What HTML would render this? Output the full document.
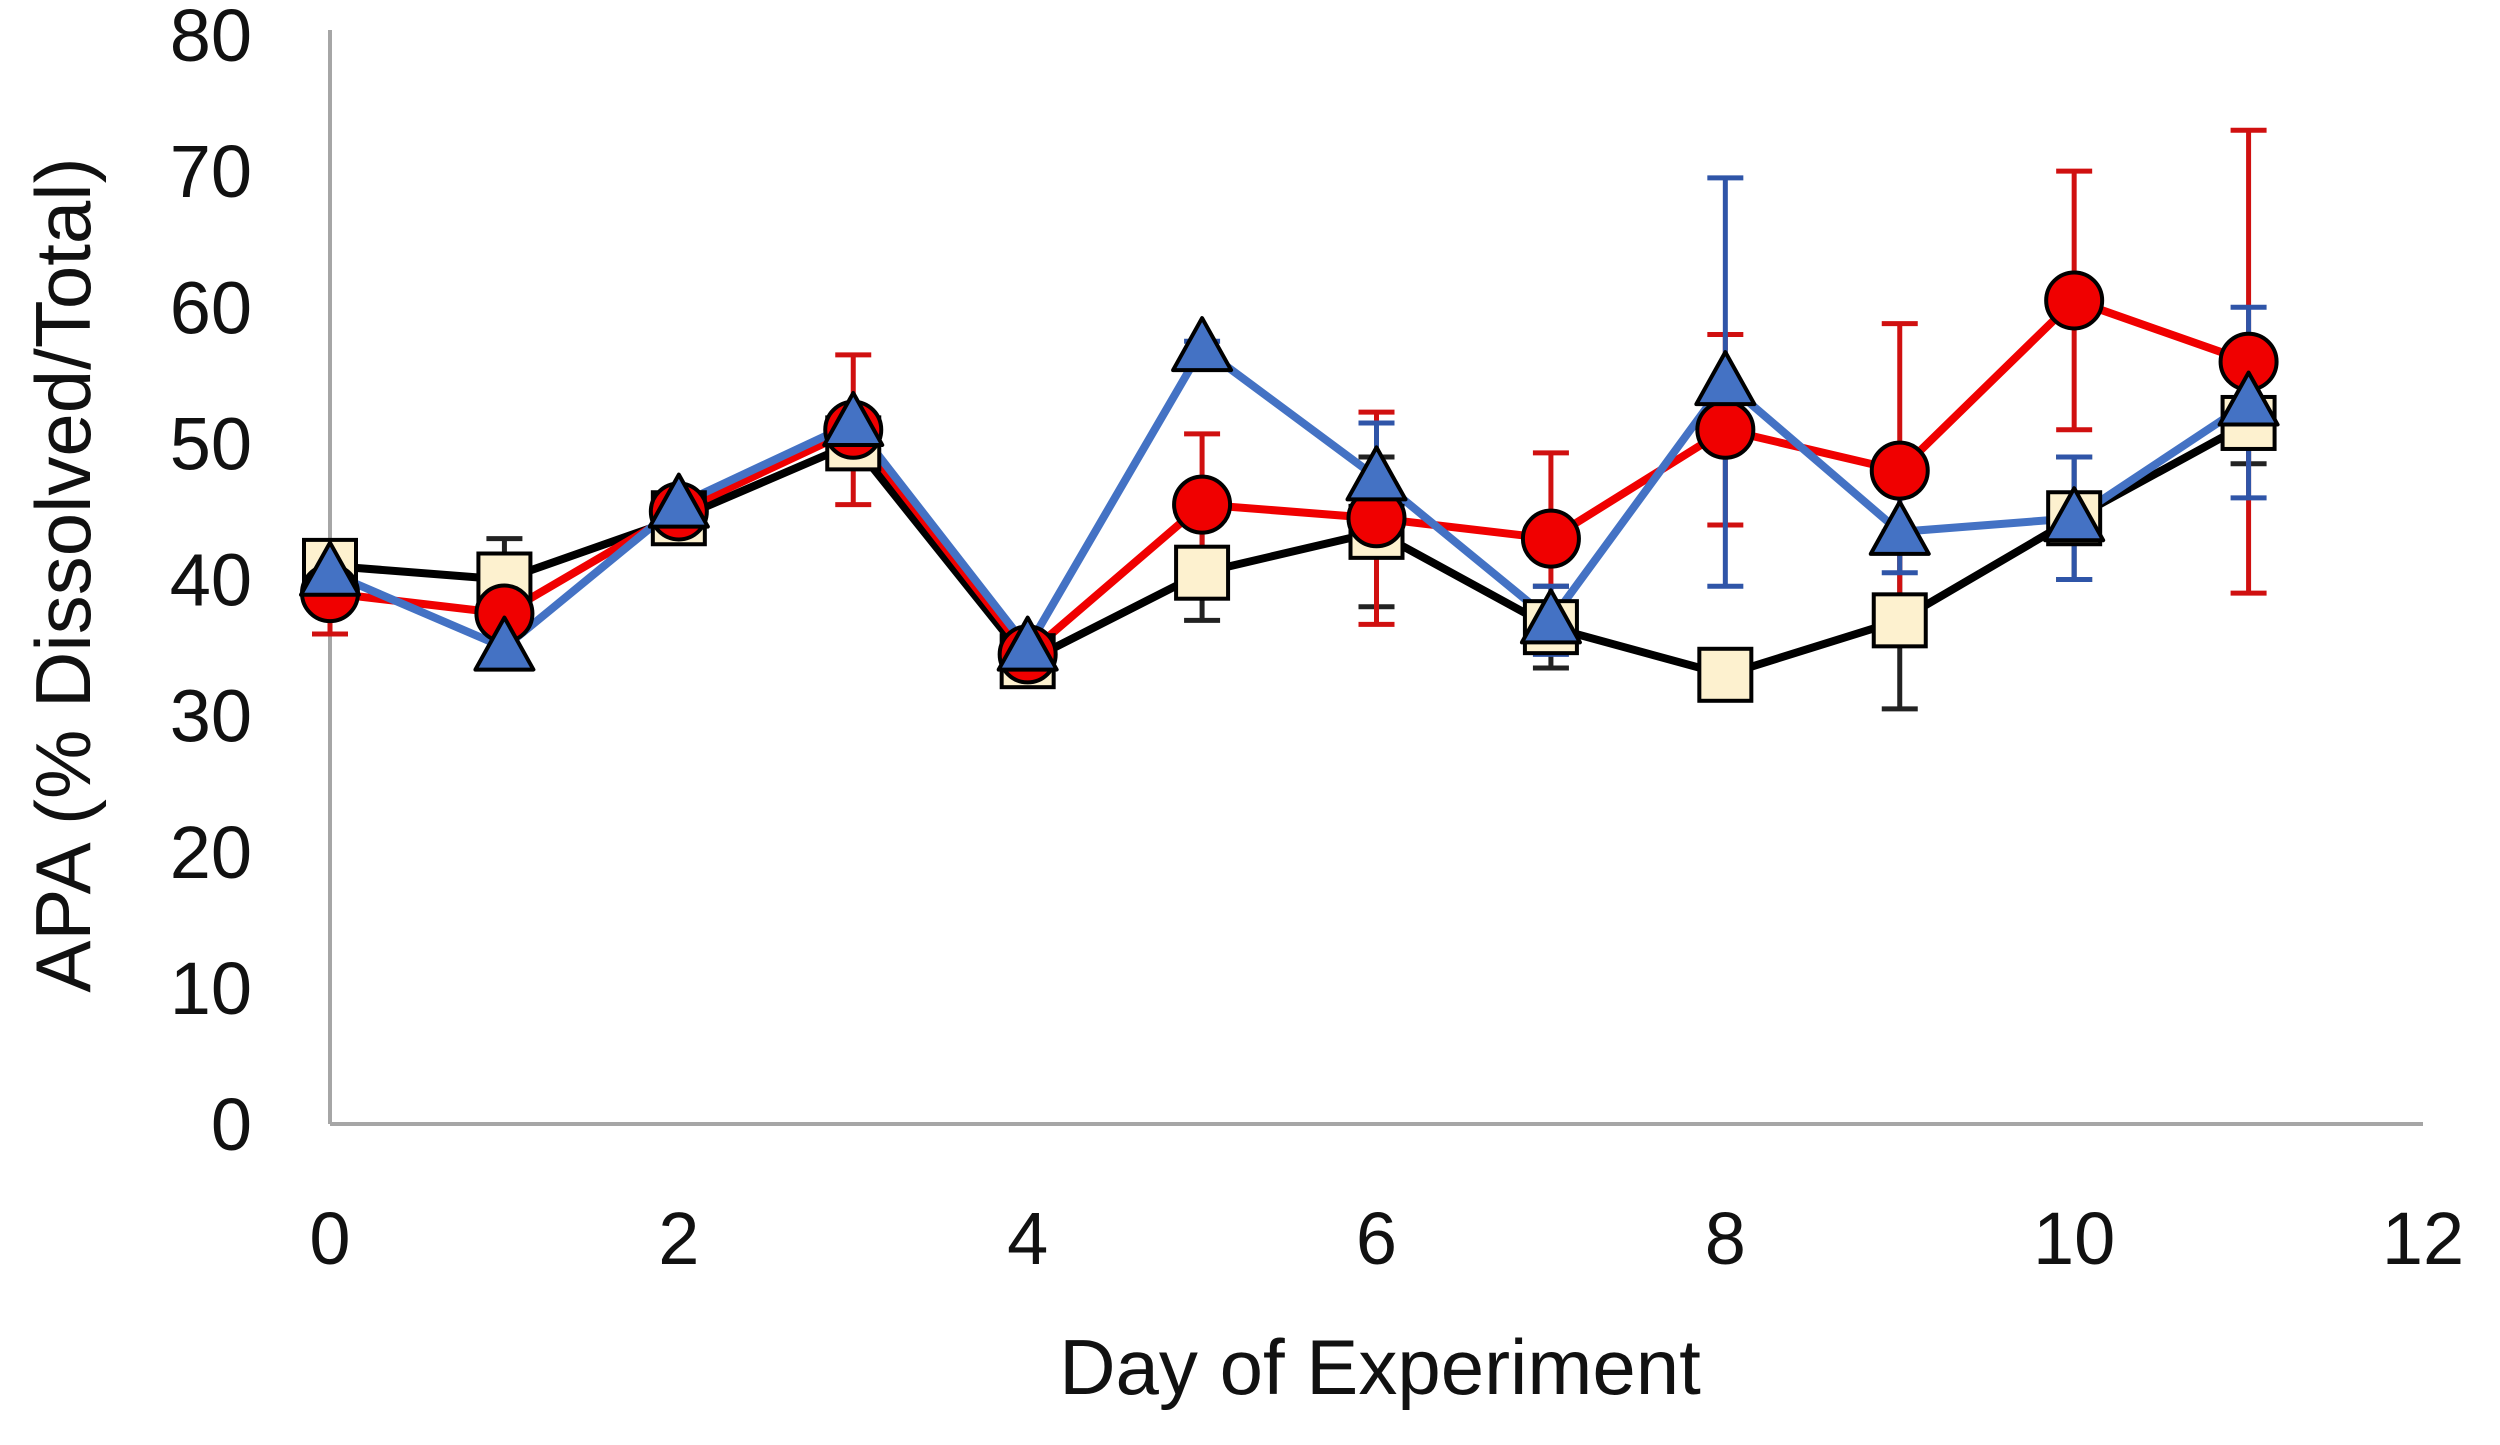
<!DOCTYPE html>
<html><head><meta charset="utf-8"><style>
body{margin:0;background:#fff;}
svg{display:block;font-family:"Liberation Sans",sans-serif;}
</style></head><body>
<svg id="chart" width="2500" height="1445" viewBox="0 0 2500 1445">
<g id="axes"></g>
<g id="series"></g>
<text x="1380" y="1394" font-size="78" text-anchor="middle" fill="#111">Day of Experiment</text>
<text transform="translate(90,575) rotate(-90)" font-size="78" text-anchor="middle" fill="#111">APA (% Dissolved/Total)</text>
</svg>
<script>
const days = [0,1,2,3,4,5,6,7,8,9,10,11];
const blackVals = [41,40,44.5,50,34,40.5,43.5,36.5,33,37,44.5,51.5];
const blackErr = [0,3,0,0,0,3.5,5.5,3,0,6.5,4.5,3];
const redVals = [39,37.5,45,51,34.5,45.5,44.5,43,51,48,60.5,56];
const redErr = [3,0,0,5.5,0,5.2,7.8,6.3,7,10.8,9.5,17];
const blueVals = [40.5,35,45.5,51.5,35,57,47.5,37,54.5,43.5,44.5,53];
const blueErr = [0,0,0,0,0,0.5,4,2.5,15,3,4.5,7];
const xTicks = [0,2,4,6,8,10,12];
const yTicks = [0,10,20,30,40,50,60,70,80];

const NS='http://www.w3.org/2000/svg';
const X0=330,X1=2423,Y0=1124,Y1=35;
function xs(v){return X0+(v/12)*(X1-X0);}
function ys(v){return Y0-(v/80)*(Y0-Y1);}
function mk(tag,attrs,parent){const e=document.createElementNS(NS,tag);for(const k in attrs)e.setAttribute(k,attrs[k]);parent.appendChild(e);return e;}
const axes=document.getElementById('axes'), ser=document.getElementById('series');

let l=mk('line',{x1:X0,y1:Y1-5,x2:X0,y2:Y0,stroke:'#a6a6a6','stroke-width':4},axes);


l=mk('line',{x1:X0,y1:Y0,x2:X1,y2:Y0,stroke:'#a6a6a6','stroke-width':4},axes);


yTicks.forEach(t=>{const e=mk('text',{x:252,y:ys(t)+26,'font-size':74,'text-anchor':'end',fill:'#111'},axes);e.textContent=t;

});
xTicks.forEach(t=>{const e=mk('text',{x:xs(t),y:1264,'font-size':74,'text-anchor':'middle',fill:'#111'},axes);e.textContent=t;

});

function errs(vals,err,col,name){
  const g=mk('g',{},ser);
  
  
  vals.forEach((v,i)=>{if(!err[i])return;const x=xs(days[i]);const a=ys(v+err[i]),b=ys(v-err[i]);
    mk('line',{x1:x,y1:a,x2:x,y2:b,stroke:col,'stroke-width':5},g);
    mk('line',{x1:x-18,y1:a,x2:x+18,y2:a,stroke:col,'stroke-width':5},g);
    mk('line',{x1:x-18,y1:b,x2:x+18,y2:b,stroke:col,'stroke-width':5},g);});
}
function line(vals,col,name){
  const p=mk('polyline',{points:vals.map((v,i)=>xs(days[i])+','+ys(v)).join(' '),fill:'none',stroke:col,'stroke-width':8,'stroke-linejoin':'round'},ser);
  
  
}
errs(blackVals,blackErr,'#222','control');
errs(redVals,redErr,'#d01010','red');
errs(blueVals,blueErr,'#2f55a8','blue');
line(blackVals,'#000','control');
line(redVals,'#f00000','red');
line(blueVals,'#4472c4','blue');
blackVals.forEach((v,i)=>{const x=xs(days[i]),y=ys(v);
  const r=mk('rect',{x:x-26,y:y-26,width:52,height:52,fill:'#fdf1cf',stroke:'#000','stroke-width':4},ser);
  
  });
redVals.forEach((v,i)=>{const c=mk('circle',{cx:xs(days[i]),cy:ys(v),r:28,fill:'#f00000',stroke:'#000','stroke-width':4},ser);
  
  });
blueVals.forEach((v,i)=>{const x=xs(days[i]),y=ys(v);
  const t=mk('polygon',{points:`${x},${y-30} ${x+29},${y+22} ${x-29},${y+22}`,fill:'#4472c4',stroke:'#000','stroke-width':4,'stroke-linejoin':'round'},ser);
  
  });
</script>
</body></html>
